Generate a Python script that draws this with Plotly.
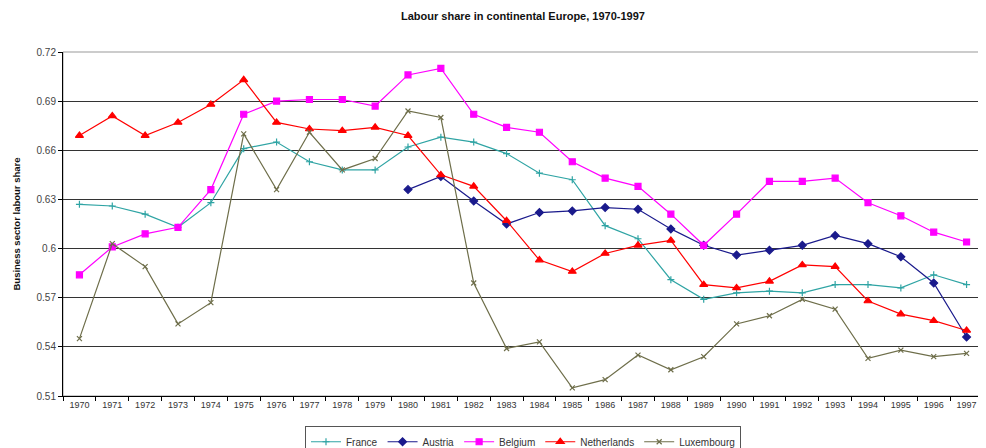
import plotly.graph_objects as go

years = [str(y) for y in range(1970, 1998)]

france = [0.627, 0.626, 0.621, 0.613, 0.628, 0.661, 0.665, 0.653, 0.648, 0.648,
          0.662, 0.668, 0.665, 0.658, 0.646, 0.642, 0.614, 0.606, 0.581, 0.569,
          0.573, 0.574, 0.573, 0.578, 0.578, 0.576, 0.584, 0.578]
austria = [None] * 10 + [0.636, 0.644, 0.629, 0.615, 0.622, 0.623, 0.625, 0.624, 0.612, 0.602,
                         0.596, 0.599, 0.602, 0.608, 0.603, 0.595, 0.579, 0.546]
belgium = [0.584, 0.601, 0.609, 0.613, 0.636, 0.682, 0.690, 0.691, 0.691, 0.687,
           0.706, 0.710, 0.682, 0.674, 0.671, 0.653, 0.643, 0.638, 0.621, 0.602,
           0.621, 0.641, 0.641, 0.643, 0.628, 0.620, 0.610, 0.604]
netherlands = [0.669, 0.681, 0.669, 0.677, 0.688, 0.703, 0.677, 0.673, 0.672, 0.674,
               0.669, 0.645, 0.638, 0.617, 0.593, 0.586, 0.597, 0.602, 0.605, 0.578,
               0.576, 0.580, 0.590, 0.589, 0.568, 0.560, 0.556, 0.550]
luxembourg = [0.545, 0.603, 0.589, 0.554, 0.567, 0.670, 0.636, 0.671, 0.648, 0.655,
              0.684, 0.680, 0.579, 0.539, 0.543, 0.515, 0.520, 0.535, 0.526, 0.534,
              0.554, 0.559, 0.569, 0.563, 0.533, 0.538, 0.534, 0.536]

y_ticks = [0.51, 0.54, 0.57, 0.60, 0.63, 0.66, 0.69, 0.72]
y_tick_text = ["0.51", "0.54", "0.57", "0.6", "0.63", "0.66", "0.69", "0.72"]

series = [
    ("France", france, "#2FA4A4", "cross-thin", 5),
    ("Austria", austria, "#1A1A8C", "diamond", 6),
    ("Belgium", belgium, "#FF00FF", "square", 6),
    ("Netherlands", netherlands, "#FF0000", "triangle-up", 7),
    ("Luxembourg", luxembourg, "#6E6E4A", "x-thin", 5),
]

fig = go.Figure()
for name, vals, color, sym, size in series:
    fig.add_trace(go.Scatter(
        x=years, y=vals, name=name, mode="lines+markers",
        line=dict(color=color, width=1.2),
        marker=dict(symbol=sym, size=size, color=color,
                    line=dict(color=color, width=1.2)),
        connectgaps=False,
    ))

fig.update_layout(
    width=978, height=440,
    margin=dict(l=55, r=3, t=44, b=52, autoexpand=False),
    paper_bgcolor="white", plot_bgcolor="white",
    font=dict(family="Liberation Sans, Arial, sans-serif", size=10, color="#333333"),
    title=dict(text="<b>Labour share in continental Europe, 1970-1997</b>",
               x=0.5, xref="paper", y=0.982, yanchor="middle",
               font=dict(size=11, color="#111111")),
    legend=dict(orientation="h", x=0.5, xanchor="center", y=-0.088, yanchor="top",
                bordercolor="#555555", borderwidth=1, bgcolor="white",
                font=dict(size=10, color="#333333"), itemwidth=30,
                tracegroupgap=0),
    showlegend=True,
)

fig.update_xaxes(
    type="category", range=[-0.5, 27.5],
    tickson="boundaries", ticks="outside", ticklen=4, tickcolor="#000000",
    showline=True, linecolor="#000000", linewidth=1,
    showgrid=False, tickfont=dict(size=9, color="#333333"), tickangle=0,
)
fig.update_yaxes(
    range=[0.51, 0.72], tickvals=y_ticks, ticktext=y_tick_text,
    ticks="outside", ticklen=4, tickcolor="#000000",
    showline=True, linecolor="#000000", linewidth=1,
    showgrid=True, gridcolor="#333333", gridwidth=1,
    zeroline=False, tickfont=dict(size=10, color="#444444"),
    title=dict(text="<b>Business sector labour share</b>", standoff=14,
               font=dict(size=9.5, color="#111111")),
)

fig.add_shape(type="rect", xref="paper", yref="paper", x0=0, y0=0, x1=1, y1=1,
              line=dict(color="#999999", width=1), layer="below")

fig.write_html("out.html")
